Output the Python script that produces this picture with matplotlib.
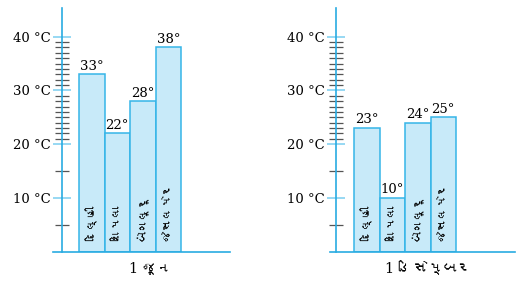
import matplotlib
matplotlib.use("Agg")
import matplotlib.pyplot as plt
from matplotlib import font_manager, ft2font

# data
cities = ["દિલ્હી", "શિમલા", "બેંગલૂરૂ", "જેસલમેર"]
june = [33, 22, 28, 38]
december = [23, 10, 24, 25]
captions = ["1 જૂન", "1 ડિસેમ્બર"]
tick_vals = [10, 20, 30, 40]
tick_labels = ["10 °C", "20 °C", "30 °C", "40 °C"]


def find_font(ch):
    # look for any installed font that has a glyph for ch
    for f in font_manager.fontManager.ttflist:
        try:
            if ft2font.FT2Font(f.fname).get_char_index(ord(ch)):
                return f.name
        except Exception:
            pass
    return None


guj = find_font("દ")
guj_family = [guj, "DejaVu Sans"] if guj else ["Noto Sans", "DejaVu Sans"]

plt.rcParams["font.family"] = ["DejaVu Serif"]

W, H = 531, 282
AXIS = "#29abe2"
FILL = "#c8eaf9"
EDGE = "#35b5e8"

fig = plt.figure(figsize=(W / 100, H / 100), dpi=100)

bar_px = 25.5          # bar width in pixels
px_per_unit = 5.375    # vertical pixels per degree
base_px = 30.3         # baseline height from figure bottom
top_val = 45.3


def panel(left, right, spine_x, first_bar, values, caption, cap_x):
    ax = fig.add_axes([left / W, base_px / H, (right - left) / W,
                       top_val * px_per_unit / H])
    x0 = -0.5 - (first_bar - left) / bar_px
    ax.set_xlim(x0, x0 + (right - left) / bar_px)
    ax.set_ylim(0, top_val)
    ax.patch.set_alpha(0)

    xs = list(range(len(values)))
    ax.bar(xs, values, width=1.0, color=FILL, edgecolor=EDGE, linewidth=1.1)
    for x, v, name in zip(xs, values, cities):
        ax.text(x, v + 0.3, f"{v}°", ha="center", va="bottom", fontsize=9.5)
        ax.text(x, 2.0, name, rotation=90, ha="center", va="bottom",
                fontsize=8.5, family=guj_family)

    for s in ["top", "right"]:
        ax.spines[s].set_visible(False)
    ax.spines["left"].set_position(("data", -0.5 - (first_bar - spine_x) / bar_px))
    ax.spines["left"].set_color(AXIS)
    ax.spines["left"].set_linewidth(1.2)
    ax.spines["bottom"].set_color(AXIS)
    ax.spines["bottom"].set_linewidth(1.2)

    ax.set_xticks([])
    ax.set_yticks(tick_vals)
    ax.set_yticklabels(tick_labels, fontsize=9.5)
    minors = [5, 15] + [t for t in range(21, 40) if t != 30]
    ax.set_yticks(minors, minor=True)
    ax.tick_params(axis="y", which="major", direction="inout", length=13,
                   width=1.3, color="#8fd6f2", pad=1.5)
    ax.tick_params(axis="y", which="minor", direction="inout", length=10,
                   width=0.9, color="#555555")
    ax.yaxis.get_major_ticks()[0].tick1line.set_color(AXIS)

    ax.text(cap_x, -16.5 / (top_val * px_per_unit), caption,
            transform=ax.get_xaxis_transform(), ha="center", va="center",
            fontsize=10.5, family=["DejaVu Serif"] + guj_family)
    return ax


panel(53, 230, 61.5, 79, june, captions[0], 2.3)
panel(330, 515, 336.3, 354, december, captions[1], 2.4)

fig.savefig("out.png", dpi=100)
